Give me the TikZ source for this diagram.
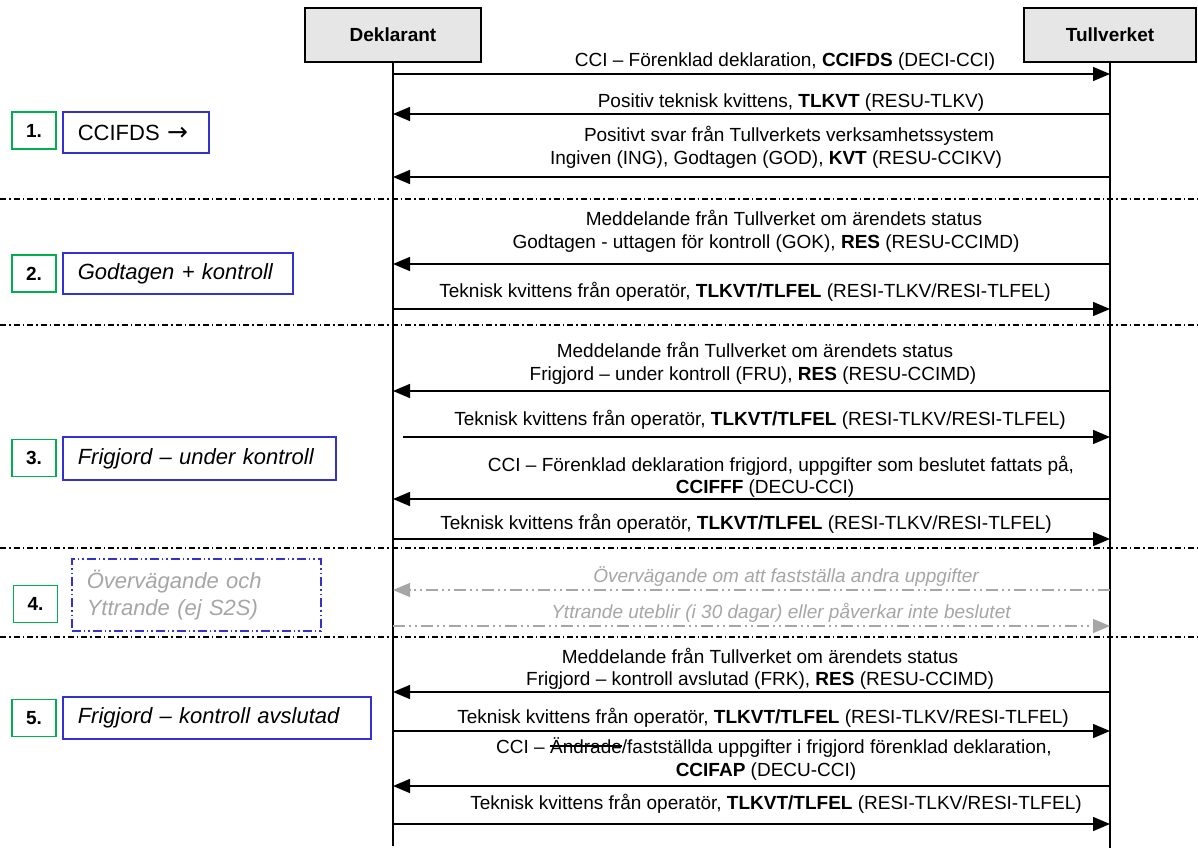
\documentclass[tikz,border=0pt]{standalone}
\usepackage{fontspec}
\setmainfont{Liberation Sans}
\newfontfamily\arrowfont{DejaVu Sans}
\usetikzlibrary{arrows.meta}
\definecolor{hdrfill}{HTML}{E6E6E6}
\definecolor{stepgreen}{HTML}{00B050}
\definecolor{stepblue}{HTML}{3333CC}
\definecolor{greytxt}{HTML}{A6A6A6}
\newcommand\mystrike[1]{\setbox0=\hbox{#1}\rlap{\vrule height 0.40em depth -0.33em width \wd0}\box0}
\begin{document}
\begin{tikzpicture}[x=1pt,y=-1pt,
 actor/.style={draw=black, line width=2.4pt, fill=hdrfill, minimum height=54pt, font=\fontsize{19}{22}\selectfont\bfseries, inner sep=0},
 life/.style={line width=1.4pt},
 msg/.style={line width=1.4pt, -{Triangle[length=17pt,width=14pt]}},
 optmsg/.style={line width=1.2pt, draw=greytxt, dash pattern=on 12pt off 4pt on 2pt off 4pt on 2pt off 4pt, -{Triangle[length=17pt,width=14pt,fill=greytxt]}},
 lbl/.style={anchor=base, inner sep=0, font=\fontsize{19}{22}\selectfont},
 optlbl/.style={anchor=base, inner sep=0, text=greytxt, font=\fontsize{19}{22}\selectfont\itshape},
 sep/.style={line width=1.2pt, dash pattern=on 6pt off 3pt on 1.5pt off 3pt},
 stepnum/.style={draw=stepgreen, line width=1.8pt, minimum width=44pt, minimum height=37pt, font=\fontsize{19}{22}\selectfont\bfseries, inner sep=0},
 phase/.style={draw=stepblue, line width=1.6pt, minimum height=41pt, anchor=west, inner xsep=15pt, inner ysep=0pt, align=left, font=\fontsize{22}{26}\selectfont\itshape}
]
\useasboundingbox[fill=white] (0,0) rectangle (1198,848);

% actors
\node[actor, minimum width=176pt] (D) at (393,35) {Deklarant};
\node[actor, minimum width=172pt] (T) at (1110,35) {Tullverket};
\coordinate (Dend) at (393,846);
\coordinate (Tend) at (1110,848);
\draw[life] (D) -- (Dend);
\draw[life] (T) -- (Tend);

% separators
\coordinate (s1a) at (0,199); \coordinate (s1b) at (1198,199);
\coordinate (s2a) at (0,325); \coordinate (s2b) at (1198,325);
\coordinate (s3a) at (0,548); \coordinate (s3b) at (1198,548);
\coordinate (s4a) at (0,637); \coordinate (s4b) at (1198,637);
\draw[sep] (s1a) -- (s1b);
\draw[sep] (s2a) -- (s2b);
\draw[sep] (s3a) -- (s3b);
\draw[sep] (s4a) -- (s4b);

% step numbers
\node[stepnum] (n1) at (34,130.5) {1.};
\node[stepnum] (n2) at (34,273.5) {2.};
\node[stepnum] (n3) at (34,458) {3.};
\node[stepnum] (n4) at (35.5,604) {4.};
\node[stepnum] (n5) at (34,718) {5.};

% phase boxes
\node[phase, text width=116pt, font=\fontsize{22}{26}\selectfont] (p1) at (62,132.5) {CCIFDS {\arrowfont\fontsize{25}{26}\selectfont →}};
\node[phase, text width=200pt] (p2) at (62,273.5) {Godtagen + kontroll};
\node[phase, text width=243pt, minimum height=43pt] (p3) at (62,458.5) {Frigjord – under kontroll};
\node[phase, text width=219pt, minimum height=72pt, text=greytxt,
      dash pattern=on 9pt off 3pt on 1.5pt off 3pt on 1.5pt off 3pt,
      font=\fontsize{22}{27}\selectfont\itshape] (p4) at (71,595) {Övervägande och\\Yttrande (ej S2S)};
\node[phase, text width=278pt, minimum height=42pt] (p5) at (62,718) {Frigjord – kontroll avslutad};

% messages
\draw[msg] (D.south |- 0,74) -- (T.south |- 0,74);
\node[lbl] (l1) at (785,67) {CCI – Förenklad deklaration, \textbf{CCIFDS} (DECI-CCI)};

\draw[msg] (T.south |- 0,114) -- (D.south |- 0,114);
\node[lbl] (l2) at (791,107) {Positiv teknisk kvittens, \textbf{TLKVT} (RESU-TLKV)};

\draw[msg] (T.south |- 0,177) -- (D.south |- 0,177);
\node[lbl] (l3a) at (789,141) {Positivt svar från Tullverkets verksamhetssystem};
\node[lbl] (l3b) at (776,164) {Ingiven (ING), Godtagen (GOD), \textbf{KVT} (RESU-CCIKV)};

\draw[msg] (T.south |- 0,264) -- (D.south |- 0,264);
\node[lbl] (l4a) at (784,225) {Meddelande från Tullverket om ärendets status};
\node[lbl] (l4b) at (766,248) {Godtagen - uttagen för kontroll (GOK), \textbf{RES} (RESU-CCIMD)};

\draw[msg] (D.south |- 0,309) -- (T.south |- 0,309);
\node[lbl] (l5) at (745,297) {Teknisk kvittens från operatör, \textbf{TLKVT/TLFEL} (RESI-TLKV/RESI-TLFEL)};

\draw[msg] (T.south |- 0,391) -- (D.south |- 0,391);
\node[lbl] (l6a) at (755,357) {Meddelande från Tullverket om ärendets status};
\node[lbl] (l6b) at (753,380) {Frigjord – under kontroll (FRU), \textbf{RES} (RESU-CCIMD)};

\coordinate (a7s) at (403,437);
\draw[msg] (a7s) -- (T.south |- a7s);
\node[lbl] (l7) at (760,425) {Teknisk kvittens från operatör, \textbf{TLKVT/TLFEL} (RESI-TLKV/RESI-TLFEL)};

\draw[msg] (T.south |- 0,499) -- (D.south |- 0,499);
\node[lbl] (l8a) at (781,471) {CCI – Förenklad deklaration frigjord, uppgifter som beslutet fattats på,};
\node[lbl] (l8b) at (765,493) {\textbf{CCIFFF} (DECU-CCI)};

\draw[msg] (D.south |- 0,539) -- (T.south |- 0,539);
\node[lbl] (l9) at (746,529) {Teknisk kvittens från operatör, \textbf{TLKVT/TLFEL} (RESI-TLKV/RESI-TLFEL)};

\draw[optmsg] (T.south |- 0,590) -- (D.south |- 0,590);
\node[optlbl] (l10) at (786,582) {Övervägande om att fastställa andra uppgifter};

\draw[optmsg] (D.south |- 0,626) -- (T.south |- 0,626);
\node[optlbl] (l11) at (781,618) {Yttrande uteblir (i 30 dagar) eller påverkar inte beslutet};

\draw[msg] (T.south |- 0,692) -- (D.south |- 0,692);
\node[lbl] (l12a) at (760,663) {Meddelande från Tullverket om ärendets status};
\node[lbl] (l12b) at (760,685) {Frigjord – kontroll avslutad (FRK), \textbf{RES} (RESU-CCIMD)};

\draw[msg] (D.south |- 0,731) -- (T.south |- 0,731);
\node[lbl] (l13) at (763,723) {Teknisk kvittens från operatör, \textbf{TLKVT/TLFEL} (RESI-TLKV/RESI-TLFEL)};

\draw[msg] (T.south |- 0,786) -- (D.south |- 0,786);
\node[lbl] (l14a) at (774,753) {CCI – \mystrike{Ändrade}/fastställda uppgifter i frigjord förenklad deklaration,};
\node[lbl] (l14b) at (766,776) {\textbf{CCIFAP} (DECU-CCI)};

\draw[msg] (D.south |- 0,824) -- (T.south |- 0,824);
\node[lbl] (l15) at (776,809) {Teknisk kvittens från operatör, \textbf{TLKVT/TLFEL} (RESI-TLKV/RESI-TLFEL)};
\end{tikzpicture}
\end{document}
